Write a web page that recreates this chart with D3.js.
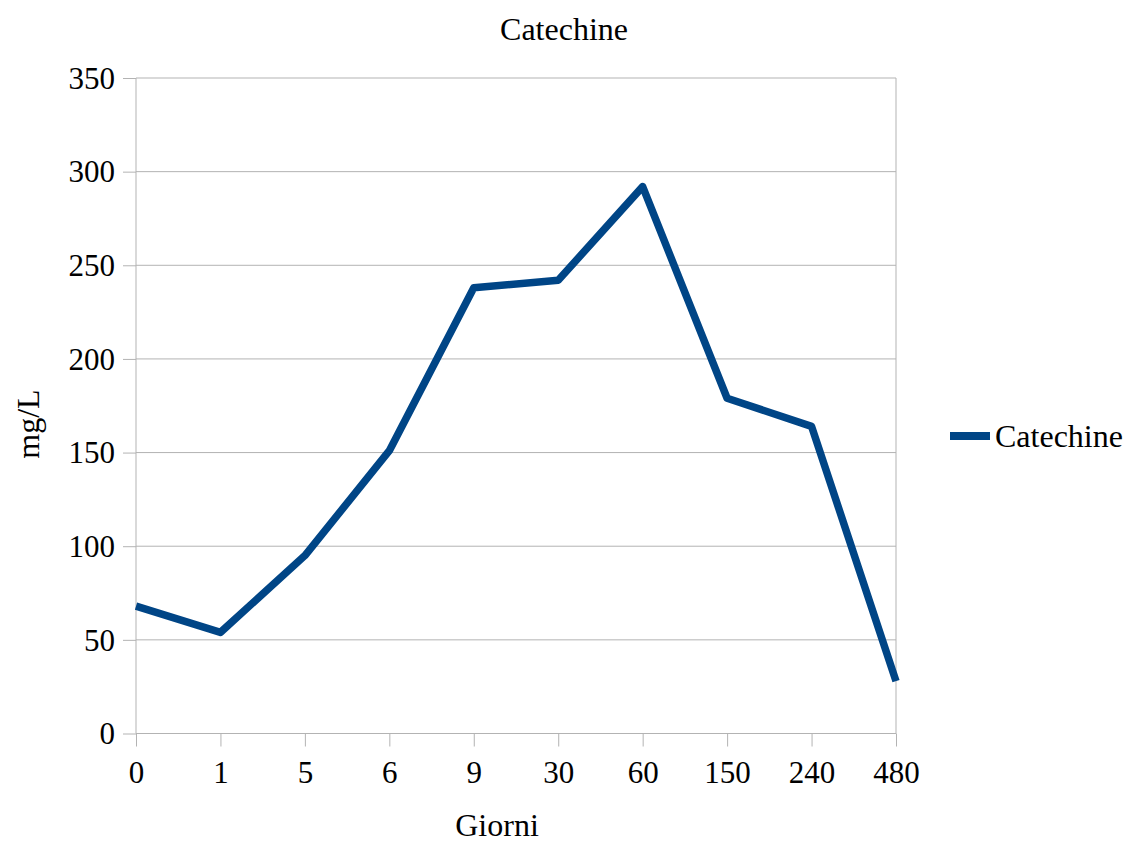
<!DOCTYPE html>
<html>
<head>
<meta charset="utf-8">
<script src="https://cdn.jsdelivr.net/npm/d3@7"></script>
<style>
  body { margin: 0; background: #fff; }
  svg text { font-family: 'Liberation Serif', 'Times New Roman', serif; fill: #000; }
</style>
</head>
<body>
<div id="chart"></div>
<script>
// Data
const days = ['0', '1', '5', '6', '9', '30', '60', '150', '240', '480'];
const catechine = [68, 54, 95, 151, 238, 242, 292, 179, 164, 28];
const yTicks = [0, 50, 100, 150, 200, 250, 300, 350];

const margin = { t: 78, r: 234, b: 111.5, l: 136 };
const width = 1130 - margin.l - margin.r;
const height = 845 - margin.t - margin.b;

const svg = d3
  .select('#chart')
  .append('svg')
  .attr('width', 1130)
  .attr('height', 845);

const g = svg.append('g').attr('transform', `translate(${margin.l}, ${margin.t})`);

// scales
const xScale = d3.scalePoint(days, [0, width]);
const yScale = d3.scaleLinear([0, 350], [height, 0]);

// grid lines
g.append('g')
  .selectAll('line')
  .data(yTicks)
  .join('line')
  .attr('x1', 0)
  .attr('x2', width)
  .attr('y1', (d) => yScale(d))
  .attr('y2', (d) => yScale(d))
  .attr('stroke', '#b3b3b3')
  .attr('stroke-width', 1);

// y axis
const yAxis = d3.axisLeft(yScale).tickValues(yTicks).tickSize(13).tickPadding(8);
g.append('g')
  .call(yAxis)
  .call((a) => a.select('.domain').attr('stroke', '#b3b3b3').attr('d', `M0,${height}V0`))
  .call((a) => a.selectAll('.tick line').attr('stroke', '#b3b3b3'))
  .call((a) => a.selectAll('.tick text').style('font-size', '31px').attr('dy', '0.33em'));

// right border
g.append('line')
  .attr('x1', width)
  .attr('x2', width)
  .attr('y1', 0)
  .attr('y2', height)
  .attr('stroke', '#b3b3b3');

// x axis
const xAxis = d3.axisBottom(xScale).tickSize(13).tickPadding(14);
g.append('g')
  .attr('transform', `translate(0, ${height})`)
  .call(xAxis)
  .call((a) => a.select('.domain').attr('stroke', '#b3b3b3').attr('d', `M0,0H${width}`))
  .call((a) => a.selectAll('.tick line').attr('stroke', '#b3b3b3'))
  .call((a) => a.selectAll('.tick text').style('font-size', '31px'));

// line
const line = d3
  .line()
  .x((d, i) => xScale(days[i]))
  .y((d) => yScale(d));

g.append('path')
  .datum(catechine)
  .attr('fill', 'none')
  .attr('stroke', '#004586')
  .attr('stroke-width', 7.5)
  .attr('stroke-linejoin', 'round')
  .attr('d', line);

// title
svg.append('text')
  .attr('x', 564)
  .attr('y', 40)
  .attr('text-anchor', 'middle')
  .style('font-size', '32px')
  .text('Catechine');

// x-axis name
svg.append('text')
  .attr('x', 497)
  .attr('y', 836)
  .attr('text-anchor', 'middle')
  .style('font-size', '32px')
  .text('Giorni');

// y-axis name
svg.append('text')
  .attr('transform', 'translate(39, 424) rotate(-90)')
  .attr('text-anchor', 'middle')
  .style('font-size', '32px')
  .text('mg/L');

// legend
const legend = svg.append('g').attr('transform', 'translate(950, 436)');
legend.append('line')
  .attr('x1', 0)
  .attr('x2', 40)
  .attr('stroke', '#004586')
  .attr('stroke-width', 8);
legend.append('text')
  .attr('x', 45)
  .attr('y', 11)
  .style('font-size', '32px')
  .text('Catechine');
</script>
</body>
</html>
